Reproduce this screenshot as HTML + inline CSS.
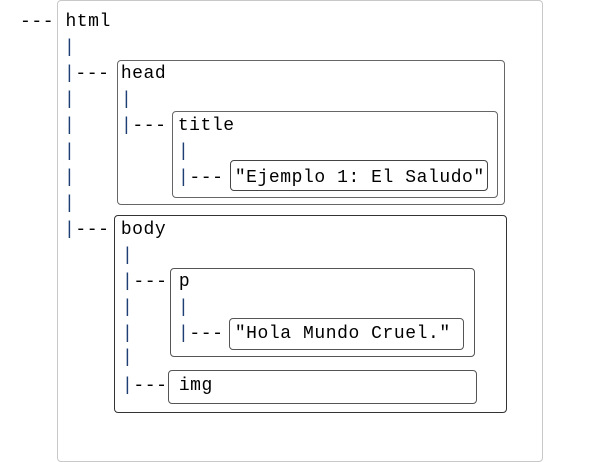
<!DOCTYPE html>
<html><head><meta charset="utf-8"><style>
body{margin:0;width:601px;height:462px;background:#fff;position:relative;overflow:hidden}
.t{position:absolute;font-family:"Liberation Mono",monospace;font-size:18px;letter-spacing:0.56px;line-height:24px;white-space:pre;color:#000;margin-top:2px}
.p{color:#1d3f73}
.b{position:absolute;border:1.3px solid #555;border-radius:4px;box-sizing:border-box}
</style></head><body>
<div class="b" style="left:57px;top:0;width:486px;height:462px;border-color:#c8c8c8"></div>
<div class="b" style="left:117px;top:60px;width:388px;height:145px;border-color:#666"></div>
<div class="b" style="left:172px;top:111px;width:326px;height:87px;border-color:#666"></div>
<div class="b" style="left:230px;top:160px;width:258px;height:31px;border-color:#444"></div>
<div class="b" style="left:114px;top:215px;width:393px;height:198px;border-color:#333"></div>
<div class="b" style="left:170px;top:268px;width:305px;height:89px;border-color:#555"></div>
<div class="b" style="left:229px;top:318px;width:235px;height:32px;border-color:#555"></div>
<div class="b" style="left:168px;top:370px;width:309px;height:34px;border-color:#555"></div>

<div class="t" style="left:20px;top:8px">--- html</div>
<div class="t p" style="left:64px;top:34px">|</div>
<div class="t" style="left:64px;top:60px"><span class="p">|</span>--- head</div>
<div class="t p" style="left:64px;top:86px">|</div>
<div class="t p" style="left:64px;top:112px">|</div>
<div class="t p" style="left:64px;top:138px">|</div>
<div class="t p" style="left:64px;top:164px">|</div>
<div class="t p" style="left:64px;top:190px">|</div>
<div class="t" style="left:64px;top:216px"><span class="p">|</span>--- body</div>

<div class="t p" style="left:121px;top:86px">|</div>
<div class="t" style="left:121px;top:112px"><span class="p">|</span>--- title</div>
<div class="t p" style="left:178px;top:138px">|</div>
<div class="t" style="left:178px;top:164px"><span class="p">|</span>--- "Ejemplo 1: El Saludo"</div>

<div class="t p" style="left:122px;top:242px">|</div>
<div class="t" style="left:122px;top:268px"><span class="p">|</span>--- p</div>
<div class="t p" style="left:122px;top:294px">|</div>
<div class="t p" style="left:122px;top:320px">|</div>
<div class="t p" style="left:122px;top:344px">|</div>
<div class="t" style="left:122px;top:372px"><span class="p">|</span>--- img</div>
<div class="t p" style="left:178px;top:294px">|</div>
<div class="t" style="left:178px;top:320px"><span class="p">|</span>--- "Hola Mundo Cruel."</div>
</body></html>
